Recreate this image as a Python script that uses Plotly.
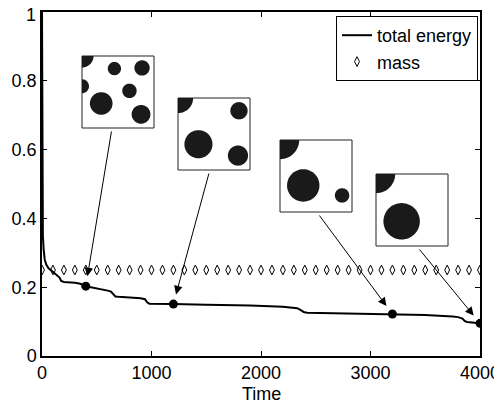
import plotly.graph_objects as go
import math

# ---------------- data ----------------
energy_t = [0, 3, 8, 15, 25, 40, 60, 80, 100, 130, 160, 175, 200, 300, 350, 400, 450, 500,
            550, 600, 630, 650, 670, 700, 800, 900, 940, 960, 980, 1000, 1200, 1500, 1900,
            2200, 2330, 2360, 2390, 2420, 2600, 3000, 3200, 3500, 3750, 3800, 3840, 3860,
            3880, 3920, 3960, 4000]
energy = [1.0, 0.5, 0.35, 0.31, 0.28, 0.265, 0.255, 0.25, 0.244, 0.235, 0.228, 0.218, 0.215,
          0.213, 0.21, 0.203, 0.2, 0.197, 0.193, 0.19, 0.187, 0.18, 0.173, 0.172, 0.17, 0.168,
          0.165, 0.156, 0.152, 0.152, 0.151, 0.149, 0.147, 0.143, 0.139, 0.134, 0.128, 0.126,
          0.125, 0.123, 0.122, 0.119, 0.115, 0.113, 0.109, 0.102, 0.099, 0.098, 0.097, 0.095]

mass_t = [0, 100, 200, 300, 400, 500, 600, 700, 800, 900, 1000, 1100, 1200, 1300, 1400,
          1500, 1600, 1700, 1800, 1900, 2000, 2100, 2200, 2300, 2400, 2500, 2600, 2700,
          2800, 2900, 3000, 3100, 3200, 3300, 3400, 3500, 3600, 3700, 3800, 3900, 4000]
mass = [0.25, 0.25, 0.25, 0.25, 0.25, 0.25, 0.25, 0.25, 0.25, 0.25, 0.25, 0.25, 0.25, 0.25,
        0.25, 0.25, 0.25, 0.25, 0.25, 0.25, 0.25, 0.25, 0.25, 0.25, 0.25, 0.25, 0.25, 0.25,
        0.25, 0.25, 0.25, 0.25, 0.25, 0.25, 0.25, 0.25, 0.25, 0.25, 0.25, 0.25, 0.25]

snap_t = [400, 1200, 3200, 4000]
snap_energy = [0.203, 0.151, 0.122, 0.095]

x_ticks = [0, 1000, 2000, 3000, 4000]
x_labels = ["0", "1000", "2000", "3000", "4000"]
y_ticks = [0, 0.2, 0.4, 0.6, 0.8, 1]
y_labels = ["0", "0.2", "0.4", "0.6", "0.8", "1"]
x_title = "Time"

# ---------------- layout geometry (window pixels) ----------------
OFF = 8                      # default page body margin
WIN_W, WIN_H = 502, 403
W, H = WIN_W - OFF, WIN_H - OFF
PX0, PX1 = 42, 480           # plot area in window pixels
PY0, PY1 = 356, 12           # y=0 at PY0, y=1 at PY1
L, T = PX0 - OFF, PY1 - OFF
R, B = W - (PX1 - OFF), H - (PY0 - OFF)


def px2t(px):
    return (px - PX0) / (PX1 - PX0) * 4000


def px2paper(px):
    return (px - PX0) / (PX1 - PX0)


def py2v(py):
    return (PY0 - py) / (PY0 - PY1)


# inset boxes: left, top (window px)
inset_boxes = [(82, 56), (178, 98), (280, 140), (376, 174)]
INSET = 72
tail_dx = [29.7, 31.3, 38.3, 42.3]
# circles per inset: (cx, cy, r) as fractions of inset size, cy measured from top
inset_circles = [
    [(0, 0, 0.16), (0.45, 0.175, 0.092), (0.834, 0.166, 0.106), (0, 0.42, 0.097),
     (0.659, 0.484, 0.10), (0.267, 0.659, 0.157), (0.82, 0.81, 0.13)],
    [(0, 0, 0.21), (0.847, 0.177, 0.12), (0.284, 0.642, 0.195), (0.833, 0.8, 0.14)],
    [(0, 0, 0.267), (0.323, 0.631, 0.225), (0.862, 0.77, 0.10)],
    [(0, 0, 0.267), (0.356, 0.657, 0.253)],
]

fig = go.Figure()

fig.add_trace(go.Scatter(x=energy_t, y=energy, mode="lines", name="total energy",
                         line=dict(color="black", width=2)))
fig.add_trace(go.Scatter(x=mass_t, y=mass, mode="markers", name="mass",
                         marker=dict(symbol="diamond-tall-open", size=7, color="black",
                                     line=dict(width=1))))
fig.add_trace(go.Scatter(x=snap_t, y=snap_energy, mode="markers", showlegend=False,
                         marker=dict(symbol="circle", size=9, color="black")))

shapes = []
for (bx, by), circles in zip(inset_boxes, inset_circles):
    shapes.append(dict(type="rect", xref="x", yref="y",
                       x0=px2t(bx), x1=px2t(bx + INSET), y0=py2v(by + INSET), y1=py2v(by),
                       line=dict(color="#222", width=1), fillcolor="white", layer="above"))
    for cx, cy, r in circles:
        pts = []
        n = 60
        for k in range(n + 1):
            a = 2 * math.pi * k / n
            fx = min(max(cx + r * math.cos(a), 0), 1)
            fy = min(max(cy + r * math.sin(a), 0), 1)
            pts.append((px2t(bx + fx * INSET), py2v(by + fy * INSET)))
        path = "M " + " L ".join(f"{p[0]:.3f},{p[1]:.5f}" for p in pts) + " Z"
        shapes.append(dict(type="path", xref="x", yref="y", path=path,
                           fillcolor="#1a1a1a", line=dict(width=0), layer="above"))

annotations = []
for (bx, by), dx, st, se in zip(inset_boxes, tail_dx, snap_t, snap_energy):
    annotations.append(dict(x=st, y=se, xref="x", yref="y",
                            ax=px2t(bx + dx), ay=py2v(by + INSET + 2), axref="x", ayref="y",
                            text="", showarrow=True, arrowhead=2, arrowsize=1.7,
                            arrowwidth=1, arrowcolor="black", standoff=10))

annotations.append(dict(x=0.5, y=py2v(394), xref="paper", yref="paper", text=x_title,
                        showarrow=False, xanchor="center", yanchor="middle",
                        font=dict(size=18, color="black")))
# top y tick label (would be clipped at the figure top as a normal tick label)
annotations.append(dict(x=px2paper(37.5), y=py2v(14.5), xref="paper", yref="paper",
                        text=y_labels[-1], showarrow=False, xanchor="right", yanchor="middle",
                        font=dict(size=18, color="black")))
y_ticktext = y_labels[:-1] + [""]

axis_common = dict(showline=True, linecolor="black", linewidth=1.5, mirror="ticks",
                   ticks="inside", ticklen=5, tickcolor="black", showgrid=False,
                   zeroline=False, automargin=False, tickfont=dict(size=18, color="black"))

fig.update_layout(
    width=W, height=H,
    margin=dict(l=L, r=R, t=T, b=B),
    paper_bgcolor="white", plot_bgcolor="white",
    font=dict(family="Liberation Sans, Arial, sans-serif", size=18, color="black"),
    xaxis=dict(range=[0, 4000], tickvals=x_ticks, ticktext=x_labels, **axis_common),
    yaxis=dict(range=[0, 1], tickvals=y_ticks, ticktext=y_ticktext, **axis_common),
    legend=dict(x=1 - 2 / (PX1 - PX0), y=1 - 4 / (PY0 - PY1), xanchor="right", yanchor="top",
                bgcolor="white", bordercolor="black", borderwidth=1, font=dict(size=18),
                itemwidth=30, tracegroupgap=0),
    shapes=shapes,
    annotations=annotations,
    showlegend=True,
)

fig.write_html("out.html")
